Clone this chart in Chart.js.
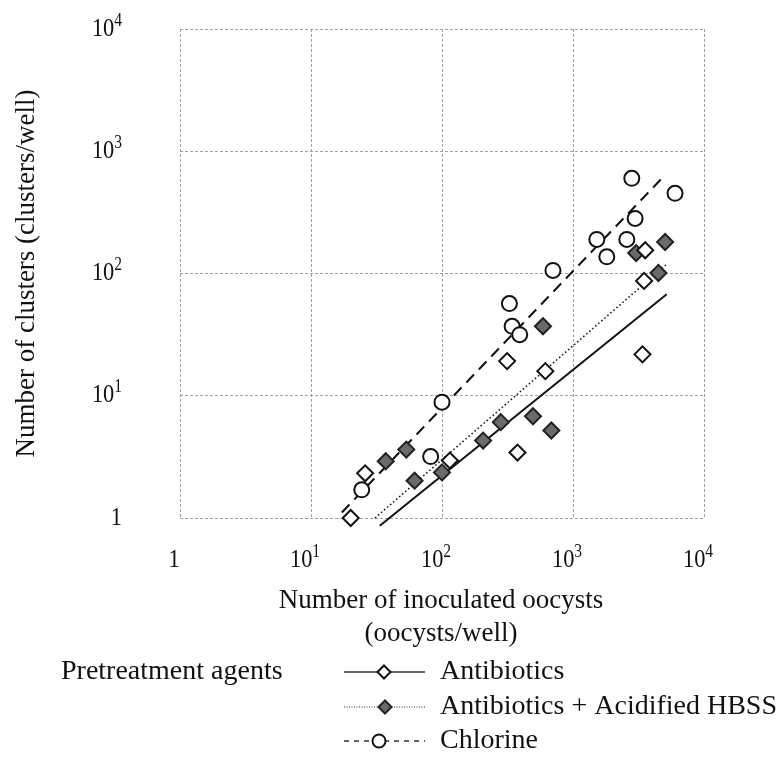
<!DOCTYPE html>
<html><head><meta charset="utf-8">
<script src="https://cdn.jsdelivr.net/npm/chart.js@4.4.0/dist/chart.umd.min.js"></script>
<style>html,body{margin:0;padding:0;background:#fff}#wrap{width:782px;height:758px;position:relative}</style>
</head><body><div id="wrap"><canvas id="c" width="782" height="758"></canvas></div>
<script>
// ---- data ----
const xTickValues = [1, 10, 100, 1000, 10000];
const xTickBase = ['1', '10', '10', '10', '10'];
const xTickExp = ['', '1', '2', '3', '4'];
const yTickValues = [1, 10, 100, 1000, 10000];
const yTickBase = ['1', '10', '10', '10', '10'];
const yTickExp = ['', '1', '2', '3', '4'];

const seriesNames = ['Antibiotics', 'Antibiotics + Acidified HBSS', 'Chlorine'];
const antibioticsX = [20.1, 25.9, 114.8, 314, 377, 615, 3390, 3490, 3560];
const antibioticsY = [1.0, 2.32, 2.95, 19.2, 3.43, 15.9, 21.8, 87, 155];
const hbssX = [37.2, 53.4, 61.8, 100, 206, 281, 495, 684, 590, 3035, 4490, 5050];
const hbssY = [2.91, 3.63, 2.02, 2.36, 4.3, 6.08, 6.8, 5.2, 37, 147, 101, 181];
const chlorineX = [24.4, 81.9, 100, 327, 343, 392, 703, 1520, 1811, 2575, 2810, 2980, 6010];
const chlorineY = [1.7, 3.18, 8.86, 56.8, 37, 31.6, 106, 190, 137, 190, 601, 282, 453];
// regression line end points
const antibioticsFitX = [33.5, 5190];
const antibioticsFitY = [0.865, 67.7];
const hbssFitX = [30.8, 5190];
const hbssFitY = [1.0, 119];
const chlorineFitX = [17.2, 5050];
const chlorineFitY = [1.11, 640];

const xTitle = ['Number of inoculated oocysts', '(oocysts/well)'];
const yTitle = 'Number of clusters (clusters/well)';
const legendTitle = 'Pretreatment agents';

// ---- build ----
const pts = (xs, ys) => xs.map((x, i) => ({x: x, y: ys[i]}));
const FONT = "'Liberation Serif', 'Times New Roman', serif";
const INK = '#111';
const SHADE = '#6b6b6b';

const styles = [
  {point: 'rectRot', fill: '#fff'},
  {point: 'rectRot', fill: SHADE},
  {point: 'circle', fill: '#fff'}
];

const datasets = [
  {type: 'scatter', label: seriesNames[0], data: pts(antibioticsX, antibioticsY), pointStyle: 'rectRot', pointRadius: 8, backgroundColor: '#fff', borderColor: INK, borderWidth: 2, order: 1, clip: false},
  {type: 'scatter', label: seriesNames[1], data: pts(hbssX, hbssY), pointStyle: 'rectRot', pointRadius: 8, backgroundColor: SHADE, borderColor: '#222', borderWidth: 2, order: 1, clip: false},
  {type: 'scatter', label: seriesNames[2], data: pts(chlorineX, chlorineY), pointStyle: 'circle', pointRadius: 7.5, backgroundColor: '#fff', borderColor: INK, borderWidth: 2, order: 1, clip: false},
  {type: 'line', label: seriesNames[0] + ' fit', data: pts(antibioticsFitX, antibioticsFitY), borderColor: INK, borderWidth: 2, pointRadius: 0, fill: false, order: 5, clip: false},
  {type: 'line', label: seriesNames[1] + ' fit', data: pts(hbssFitX, hbssFitY), borderColor: INK, borderWidth: 1.6, borderDash: [1.5, 2.5], pointRadius: 0, fill: false, order: 5, clip: false},
  {type: 'line', label: seriesNames[2] + ' fit', data: pts(chlorineFitX, chlorineFitY), borderColor: INK, borderWidth: 2, borderDash: [11, 7], pointRadius: 0, fill: false, order: 5, clip: false}
];

function drawMarker(ctx, st, x, y, r, stroke) {
  ctx.save();
  ctx.beginPath();
  if (st.point === 'circle') {
    ctx.arc(x, y, r, 0, Math.PI * 2);
  } else {
    ctx.moveTo(x - r, y); ctx.lineTo(x, y - r); ctx.lineTo(x + r, y); ctx.lineTo(x, y + r); ctx.closePath();
  }
  ctx.fillStyle = st.fill; ctx.fill();
  ctx.lineWidth = 2; ctx.strokeStyle = stroke; ctx.setLineDash([]); ctx.stroke();
  ctx.restore();
}

// draws "10" with a raised exponent (slightly condensed like the source typeface)
const SQ = 0.86;
function drawPow(ctx, base, exp, x, yb, align) {
  ctx.font = '26px ' + FONT;
  const wb = ctx.measureText(base).width * SQ;
  ctx.font = '18px ' + FONT;
  const we = exp ? ctx.measureText(exp).width * SQ : 0;
  const total = wb + we;
  const x0 = align === 'right' ? x - total : x - total / 2;
  ctx.textAlign = 'left';
  ctx.textBaseline = 'alphabetic';
  ctx.save();
  ctx.translate(x0, yb);
  ctx.scale(SQ, 1);
  ctx.font = '26px ' + FONT;
  ctx.fillText(base, 0, 0);
  if (exp) {
    ctx.font = '18px ' + FONT;
    ctx.fillText(exp, wb / SQ, -10);
  }
  ctx.restore();
}

const textPlugin = {
  id: 'texts',
  afterDraw(chart) {
    const ctx = chart.ctx;
    const area = chart.chartArea;
    const xs = chart.scales.x, ys = chart.scales.y;
    ctx.save();
    ctx.fillStyle = INK;
    // tick labels placed by the scales
    xs.ticks.forEach(t => {
      const i = xTickValues.indexOf(t.value);
      drawPow(ctx, xTickBase[i], xTickExp[i], xs.getPixelForValue(t.value) - 6, area.bottom + 48.5, 'center');
    });
    ys.ticks.forEach(t => {
      const i = yTickValues.indexOf(t.value);
      drawPow(ctx, yTickBase[i], yTickExp[i], 122, ys.getPixelForValue(t.value) + 6.5, 'right');
    });
    // x title
    ctx.font = '27px ' + FONT;
    ctx.textAlign = 'center'; ctx.textBaseline = 'middle';
    const cx = (area.left + area.right) / 2 - 1;
    ctx.fillText(xTitle[0], cx, 601);
    ctx.fillText(xTitle[1], cx, 634);
    // y title
    ctx.save();
    ctx.translate(27, (area.top + area.bottom) / 2);
    ctx.rotate(-Math.PI / 2);
    ctx.fillText(yTitle, 0, 0);
    ctx.restore();
    // legend
    ctx.font = '28px ' + FONT;
    ctx.textAlign = 'left';
    ctx.fillText(legendTitle, 61, 672);
    const rows = [672, 707, 741];
    const markerX = [384, 385, 379];
    for (let i = 0; i < 3; i++) {
      const y = rows[i];
      ctx.save();
      ctx.beginPath();
      ctx.lineWidth = i === 1 ? 1.2 : 1.6;
      ctx.strokeStyle = '#333';
      ctx.setLineDash(i === 2 ? [5, 5] : (i === 1 ? [1, 1.5] : []));
      ctx.moveTo(344, y); ctx.lineTo(425, y);
      ctx.stroke();
      ctx.restore();
      drawMarker(ctx, styles[i], markerX[i], y, 6.5, i === 1 ? '#222' : INK);
      ctx.fillStyle = INK;
      ctx.font = '28px ' + FONT;
      ctx.textAlign = 'left'; ctx.textBaseline = 'middle';
      ctx.fillText(seriesNames[i], 440, y);
    }
    ctx.restore();
  }
};

const gridOpts = {color: '#a0a0a0', lineWidth: 1, drawTicks: false};

new Chart(document.getElementById('c'), {
  data: {datasets: datasets},
  options: {
    responsive: false,
    animation: false,
    layout: {padding: {top: 29, right: 78, bottom: 0, left: 0}},
    plugins: {legend: {display: false}, tooltip: {enabled: false}},
    scales: {
      x: {
        type: 'logarithmic', position: 'bottom', min: 1, max: 10000,
        grid: gridOpts,
        border: {display: false, dash: [3, 2]},
        afterBuildTicks: s => { s.ticks = xTickValues.map(v => ({value: v})); },
        afterFit: s => { s.height = 758 - 518; s.paddingLeft = 0; s.paddingRight = 0; },
        ticks: {display: false, autoSkip: false}
      },
      y: {
        type: 'logarithmic', position: 'left', min: 1, max: 10000,
        grid: gridOpts,
        border: {display: false, dash: [3, 2]},
        afterBuildTicks: s => { s.ticks = yTickValues.map(v => ({value: v})); },
        afterFit: s => { s.width = 180; s.paddingTop = 0; s.paddingBottom = 0; },
        ticks: {display: false, autoSkip: false}
      }
    }
  },
  plugins: [textPlugin]
});
</script>
</body></html>
